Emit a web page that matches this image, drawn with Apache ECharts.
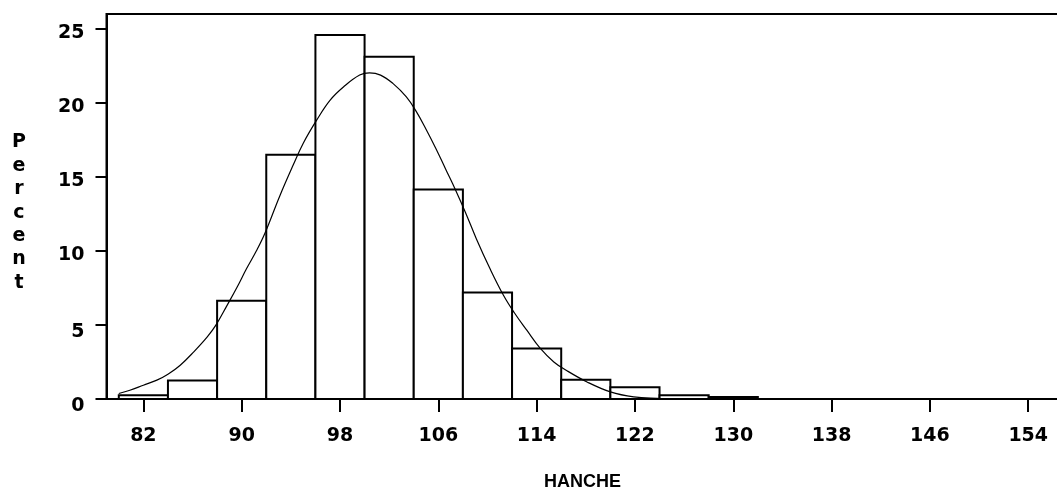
<!DOCTYPE html>
<html>
<head>
<meta charset="utf-8">
<script src="https://cdn.jsdelivr.net/npm/echarts@6/dist/echarts.min.js"></script>
<style>
html,body{margin:0;padding:0;background:#fff;}
#chart{width:1057px;height:494px;}
</style>
</head>
<body>
<div id="chart"></div>
<script>
// Histogram bins (HANCHE) and percentages
const binEdges = [80, 84, 88, 92, 96, 100, 104, 108, 112, 116, 120, 124, 128, 132];
const percents = [0.26, 1.25, 6.62, 16.47, 24.55, 23.08, 14.14, 7.19, 3.41, 1.30, 0.80, 0.25, 0.13];
// Fitted normal curve
const curveX = [80.0, 80.9, 82.0, 83.1, 84.0, 85.0, 86.1, 87.2, 87.9, 88.8, 89.6, 90.4, 91.2, 91.9, 93.1, 94.2, 95.0, 96.1, 97.2, 98.3, 99.6, 100.4, 101.3, 102.3, 103.4, 104.2, 105.0, 105.8, 106.6, 107.4, 108.2, 109.1, 110.2, 111.3, 112.2, 113.2, 114.3, 115.4, 116.4, 118.1, 120.0, 121.9, 123.8, 126.0, 129.0, 132.0];
const curveY = [0.37, 0.59, 0.93, 1.27, 1.67, 2.28, 3.18, 4.19, 4.98, 6.3, 7.5, 8.8, 10.0, 11.2, 13.7, 15.8, 17.24, 18.81, 20.16, 21.06, 21.85, 22.0, 21.85, 21.29, 20.38, 19.4, 18.2, 16.9, 15.5, 14.1, 12.6, 10.8, 8.8, 7.0, 5.8, 4.64, 3.41, 2.5, 1.94, 1.15, 0.48, 0.14, 0.05, 0.02, 0.01, 0.0];
// Tick labels
const xTicks = [82, 90, 98, 106, 114, 122, 130, 138, 146, 154];
const yTicks = [0, 5, 10, 15, 20, 25];
const xTitle = 'HANCHE';
const yTitle = 'Percent';

const chart = echarts.init(document.getElementById('chart'), null, {renderer: 'canvas'});

const barData = percents.map((p, i) => [binEdges[i], binEdges[i + 1], p]);
const curveData = curveX.map((x, i) => [x, curveY[i]]);

const labelFont = {
  fontFamily: 'DejaVu Sans',
  fontWeight: 'bold',
  fontSize: 19,
  color: '#000'
};

chart.setOption({
  animation: false,
  backgroundColor: '#fff',
  grid: {
    left: 106.5, top: 14, width: 1000, height: 385,
    outerBoundsMode: 'none', containLabel: false,
    show: true, borderColor: '#000', borderWidth: 2, backgroundColor: 'transparent'
  },
  xAxis: {
    type: 'value', min: 79, max: 160.37,
    axisLine: {show: true, lineStyle: {color: '#000', width: 2}},
    axisTick: {show: true, customValues: xTicks, length: 13, lineStyle: {color: '#000', width: 2}},
    axisLabel: Object.assign({customValues: xTicks, margin: 28}, labelFont),
    splitLine: {show: false}
  },
  yAxis: {
    type: 'value', min: 0, max: 25.97,
    axisLine: {show: true, lineStyle: {color: '#000', width: 2}},
    axisTick: {show: true, customValues: yTicks, length: 11, lineStyle: {color: '#000', width: 2}},
    axisLabel: Object.assign({
      customValues: yTicks, margin: 22,
      formatter: function (v) { return (v <= 5 ? '{b|' : '{a|') + v + '}'; },
      rich: {
        a: Object.assign({padding: [9, 0, 0, 0]}, labelFont),
        b: Object.assign({padding: [15, 0, 0, 0]}, labelFont)
      }
    }, labelFont),
    splitLine: {show: false}
  },
  graphic: [
    {
      type: 'text', x: 19, y: 212.7,
      style: {
        text: yTitle.split('').join('\n'),
        fontFamily: 'DejaVu Sans', fontWeight: 'bold', fontSize: 19,
        lineHeight: 23.4, fill: '#000', align: 'center', verticalAlign: 'middle'
      }
    },
    {
      type: 'text', x: 582.5, y: 482,
      style: {
        text: xTitle,
        fontFamily: 'Liberation Sans', fontWeight: 'bold', fontSize: 18,
        fill: '#000', align: 'center', verticalAlign: 'middle'
      }
    }
  ],
  series: [
    {
      type: 'custom',
      z: 2,
      data: barData,
      encode: {x: [0, 1], y: 2},
      renderItem: function (params, api) {
        const s = api.coord([api.value(0), 0]);
        const e = api.coord([api.value(1), api.value(2)]);
        return {
          type: 'rect',
          shape: {x: s[0], y: e[1], width: e[0] - s[0], height: s[1] - e[1]},
          style: {fill: '#fff', stroke: '#000', lineWidth: 2}
        };
      }
    },
    {
      type: 'line',
      z: 3,
      data: curveData,
      smooth: 0.4,
      showSymbol: false,
      lineStyle: {color: '#000', width: 1.2}
    }
  ]
});
</script>
</body>
</html>
